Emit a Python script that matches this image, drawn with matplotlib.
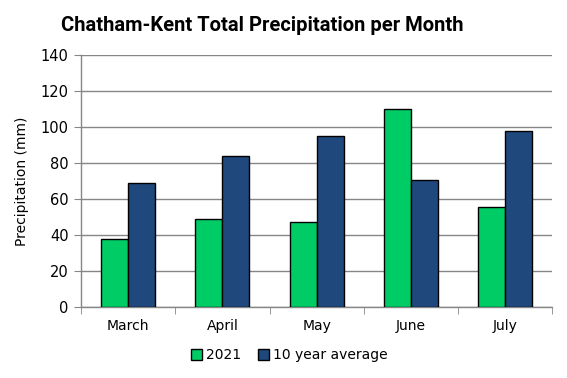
import matplotlib
matplotlib.use("Agg")
import matplotlib.pyplot as plt
import numpy as np

months = ["March", "April", "May", "June", "July"]
y2021 = [38, 49, 47, 110, 55.5]
avg10 = [69, 84, 95, 70.5, 98]
series_names = ["2021", "10 year average"]
yticks = [0, 20, 40, 60, 80, 100, 120, 140]

fig = plt.figure(figsize=(5.67, 3.78), dpi=100)
ax = fig.add_axes([0.143, 0.188, 0.831, 0.666])

x = np.arange(len(months))
w = 0.287
ax.bar(x - w/2, y2021, w, color="#00CC66", edgecolor="black", linewidth=1, label=series_names[0], zorder=3)
ax.bar(x + w/2, avg10, w, color="#1F497D", edgecolor="black", linewidth=1, label=series_names[1], zorder=3)

ax.set_xlim(-0.5, len(months) - 0.5)
ax.set_ylim(0, 140)
ax.set_yticks(yticks)
ax.grid(axis="y", color="#868686", linewidth=1, zorder=0)
ax.set_axisbelow(True)
for s in ["top", "right"]:
    ax.spines[s].set_visible(False)
for s in ["left", "bottom"]:
    ax.spines[s].set_color("#868686")
    ax.spines[s].set_linewidth(1)

ax.set_xticks(x)
ax.set_xticklabels(months, fontsize=10)
ax.set_xticks(np.arange(len(months) + 1) - 0.5, minor=True)
ax.tick_params(axis="x", which="major", length=0, pad=9)
ax.tick_params(axis="x", which="minor", length=5, color="#868686")
ax.tick_params(axis="y", length=5, color="#868686", labelsize=10.5, pad=4)
ax.set_ylabel("Precipitation (mm)", fontsize=10, labelpad=8)

fig.text(0.462, 0.933, "Chatham-Kent Total Precipitation per Month", fontsize=14.5,
         fontweight="bold", family="Roboto", ha="center", va="center")

leg = fig.legend(loc="center", bbox_to_anchor=(0.51, 0.06), ncol=2, frameon=False,
                 fontsize=10, handlelength=0.8, handleheight=0.8, handletextpad=0.3, columnspacing=1.2)

fig.savefig("out.png", dpi=100)
